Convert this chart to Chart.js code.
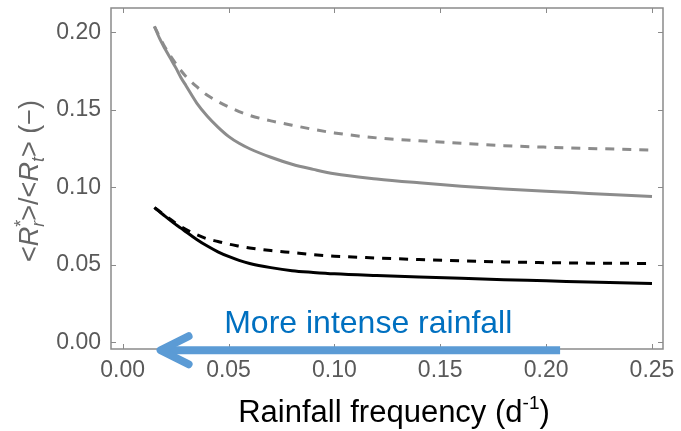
<!DOCTYPE html>
<html>
<head>
<meta charset="utf-8">
<script src="https://cdn.jsdelivr.net/npm/chart.js@4.4.1/dist/chart.umd.min.js"></script>
<style>
  html, body { margin: 0; padding: 0; background: #fff; }
  canvas { display: block; }
</style>
</head>
<body>
<canvas id="chart" width="681" height="431"></canvas>
<script>
// rainfall frequency (1/d)
var freq = [0.015, 0.0175, 0.02, 0.0225, 0.025, 0.0275, 0.03, 0.035, 0.04, 0.045, 0.05, 0.055, 0.06, 0.07, 0.08, 0.09, 0.10, 0.12, 0.14, 0.16, 0.18, 0.20, 0.22, 0.25];

// <R*r>/<Rt> curves
var graySolid   = [0.204, 0.196, 0.1895, 0.1835, 0.1775, 0.171, 0.1655, 0.1545, 0.146, 0.139, 0.133, 0.1285, 0.125, 0.1195, 0.115, 0.1117, 0.1088, 0.1055, 0.103, 0.1008, 0.099, 0.0975, 0.0962, 0.0942];
var grayDashed  = [0.204, 0.197, 0.1905, 0.185, 0.180, 0.1755, 0.1715, 0.165, 0.1595, 0.1555, 0.152, 0.149, 0.1465, 0.143, 0.1402, 0.1375, 0.1352, 0.132, 0.1302, 0.1285, 0.127, 0.126, 0.1252, 0.1242];
var blackSolid  = [0.087, 0.0843, 0.0815, 0.0788, 0.0762, 0.0738, 0.0713, 0.0665, 0.0622, 0.0585, 0.0555, 0.053, 0.051, 0.0483, 0.0463, 0.0452, 0.0443, 0.0432, 0.0423, 0.0414, 0.0405, 0.0398, 0.039, 0.038];
var blackDashed = [0.087, 0.0845, 0.082, 0.0795, 0.077, 0.0748, 0.0728, 0.0695, 0.0668, 0.0652, 0.0635, 0.0622, 0.061, 0.0593, 0.058, 0.0567, 0.0557, 0.0545, 0.0535, 0.0527, 0.052, 0.0515, 0.0512, 0.051];

var xTicks = [0.00, 0.05, 0.10, 0.15, 0.20, 0.25];
var yTicks = [0.00, 0.05, 0.10, 0.15, 0.20];

// arrow "More intense rainfall" (data coords)
var arrowFrom = 0.2066, arrowTo = 0.0165, arrowY = -0.005;
var arrowText = "More intense rainfall";

var FONT = "'Liberation Sans', Arial, sans-serif";

function pts(ys) {
    return freq.map(function (x, i) { return { x: x, y: ys[i] }; });
}

// frame, inward ticks, axis titles and the arrow
var decor = {
    id: 'decor',
    beforeDatasetsDraw: function (chart) {
        var ctx = chart.ctx, a = chart.chartArea;
        var xs = chart.scales.x, ys = chart.scales.y;
        ctx.save();
        ctx.strokeStyle = '#8a8a8a';
        ctx.lineWidth = 1;
        // major ticks
        xTicks.forEach(function (v) {
            var px = Math.round(xs.getPixelForValue(v)) + 0.5;
            ctx.beginPath();
            ctx.moveTo(px, a.bottom); ctx.lineTo(px, a.bottom - 5);
            ctx.moveTo(px, a.top); ctx.lineTo(px, a.top + 5);
            ctx.stroke();
        });
        yTicks.forEach(function (v) {
            var py = Math.round(ys.getPixelForValue(v)) + 0.5;
            ctx.beginPath();
            ctx.moveTo(a.left, py); ctx.lineTo(a.left + 5, py);
            ctx.moveTo(a.right, py); ctx.lineTo(a.right - 5, py);
            ctx.stroke();
        });
        ctx.lineWidth = 1.5;
        ctx.strokeRect(a.left, a.top, a.right - a.left, a.bottom - a.top);
        ctx.restore();
    },
    afterDatasetsDraw: function (chart) {
        var ctx = chart.ctx, a = chart.chartArea;
        var xs = chart.scales.x, ys = chart.scales.y;
        ctx.save();

        // arrow
        var x0 = xs.getPixelForValue(arrowFrom), x1 = xs.getPixelForValue(arrowTo);
        var y0 = ys.getPixelForValue(arrowY);
        ctx.strokeStyle = '#5b9bd5';
        ctx.lineWidth = 8;
        ctx.lineCap = 'butt';
        ctx.beginPath();
        ctx.moveTo(x0, y0); ctx.lineTo(x1 + 4, y0);
        ctx.stroke();
        ctx.lineCap = 'round';
        ctx.lineJoin = 'round';
        ctx.beginPath();
        ctx.moveTo(x1 + 31, y0 - 14);
        ctx.lineTo(x1 + 3, y0);
        ctx.lineTo(x1 + 31, y0 + 14);
        ctx.stroke();

        // arrow label
        ctx.fillStyle = '#0070c0';
        ctx.font = '32px ' + FONT;
        ctx.textAlign = 'center';
        ctx.textBaseline = 'alphabetic';
        ctx.fillText(arrowText, xs.getPixelForValue(0.116), y0 - 17);

        // x title with superscript
        ctx.fillStyle = '#000';
        ctx.textAlign = 'left';
        var main = 'Rainfall frequency (d', sup = '-1', end = ')';
        ctx.font = '31px ' + FONT;
        var w1 = ctx.measureText(main).width, w3 = ctx.measureText(end).width;
        ctx.font = '19px ' + FONT;
        var w2 = ctx.measureText(sup).width;
        var tx = 394 - (w1 + w2 + w3) / 2, ty = 422;
        ctx.font = '31px ' + FONT;
        ctx.fillText(main, tx, ty);
        ctx.font = '19px ' + FONT;
        ctx.fillText(sup, tx + w1, ty - 13);
        ctx.font = '31px ' + FONT;
        ctx.fillText(end, tx + w1 + w2, ty);

        // y title: <R*r>/<Rt> (−)
        var segs = [
            { t: '<', s: 27, it: false, dy: 0 },
            { t: 'R', s: 27, it: true, dy: 0 },
            { t: '*', s: 18, it: false, dy: -11, keep: true },
            { t: 'r', s: 18, it: true, dy: 6 },
            { t: '>/<', s: 27, it: false, dy: 0 },
            { t: 'R', s: 27, it: true, dy: 0 },
            { t: 't', s: 18, it: true, dy: 6 },
            { t: '> (\u2212)', s: 27, it: false, dy: 0 }
        ];
        var total = 0;
        segs.forEach(function (g) {
            ctx.font = (g.it ? 'italic ' : '') + g.s + 'px ' + FONT;
            g.w = ctx.measureText(g.t).width;
            if (!g.keep) total += g.w;
        });
        ctx.translate(38, 181);
        ctx.rotate(-Math.PI / 2);
        ctx.fillStyle = '#666';
        var cx = -total / 2;
        segs.forEach(function (g) {
            ctx.font = (g.it ? 'italic ' : '') + g.s + 'px ' + FONT;
            ctx.fillText(g.t, cx, g.dy);
            if (!g.keep) cx += g.w;
        });
        ctx.restore();
    }
};

var ctx = document.getElementById('chart').getContext('2d');
var chart = new Chart(ctx, {
    type: 'line',
    data: {
        datasets: [
            { data: pts(grayDashed), borderColor: '#8c8c8c', borderWidth: 3, borderDash: [9, 8] },
            { data: pts(graySolid), borderColor: '#8c8c8c', borderWidth: 3 },
            { data: pts(blackDashed), borderColor: '#000', borderWidth: 3, borderDash: [9, 8] },
            { data: pts(blackSolid), borderColor: '#000', borderWidth: 3 }
        ]
    },
    options: {
        responsive: false,
        animation: false,
        devicePixelRatio: 1,
        layout: { padding: { left: 0, right: 18, top: 8, bottom: 0 } },
        elements: {
            point: { radius: 0 },
            line: { tension: 0.4, cubicInterpolationMode: 'monotone', fill: false }
        },
        plugins: { legend: { display: false }, tooltip: { enabled: false } },
        scales: {
            x: {
                type: 'linear',
                min: -0.0055,
                max: 0.2552,
                afterFit: function (s) { s.height = 82; s.paddingLeft = 0; s.paddingRight = 0; },
                afterBuildTicks: function (s) { s.ticks = xTicks.map(function (v) { return { value: v }; }); },
                grid: { display: false, drawTicks: false },
                border: { display: false },
                ticks: {
                    padding: 8,
                    color: '#595959',
                    font: { size: 23, family: FONT },
                    maxRotation: 0,
                    callback: function (v) { return v.toFixed(2); }
                }
            },
            y: {
                min: -0.0042,
                max: 0.2158,
                afterFit: function (s) { s.width = 111; s.paddingTop = 0; s.paddingBottom = 0; },
                afterBuildTicks: function (s) { s.ticks = yTicks.map(function (v) { return { value: v }; }); },
                grid: { display: false, drawTicks: false },
                border: { display: false },
                ticks: {
                    padding: 10,
                    color: '#595959',
                    font: { size: 23, family: FONT },
                    callback: function (v) { return v.toFixed(2); }
                }
            }
        }
    },
    plugins: [decor]
});
</script>
</body>
</html>
